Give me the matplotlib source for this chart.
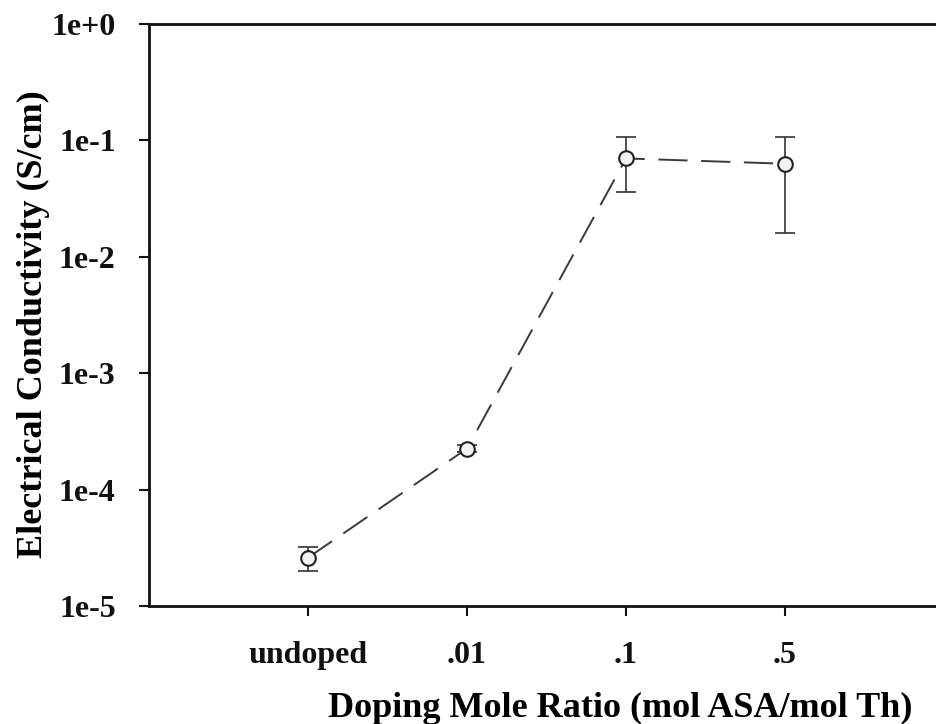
import matplotlib
matplotlib.use("Agg")
import matplotlib.pyplot as plt
import numpy as np

categories = ["undoped", ".01", ".1", ".5"]
conductivity = [2.6e-5, 2.25e-4, 0.070, 0.063]
err_upper = [3.2e-5, 2.4e-4, 0.107, 0.108]
err_lower = [2.0e-5, 2.1e-4, 0.036, 0.016]
ytick_vals = [1e-5, 1e-4, 1e-3, 1e-2, 1e-1, 1e0]
ytick_labels = ["1e-5", "1e-4", "1e-3", "1e-2", "1e-1", "1e+0"]

plt.rcParams['font.family'] = ['Liberation Serif', 'DejaVu Serif']
plt.rcParams['font.weight'] = 'bold'

fig = plt.figure(figsize=(9.36, 7.24), dpi=100)
W, H = 936, 724
left, right, top, bottom = 149, 936, 24, 606
ax = fig.add_axes([left / W, 1 - bottom / H, (right - left) / W, (bottom - top) / H])

x = np.arange(1, len(categories) + 1)
y = np.array(conductivity)
yerr = np.array([y - np.array(err_lower), np.array(err_upper) - y])

ax.errorbar(x, y, yerr=yerr, fmt='none', ecolor='#333333', elinewidth=1.2,
            capsize=7, capthick=1.2, zorder=2)
ax.plot(x, y, linestyle=(0, (15, 7)), color='#3a3a3a', linewidth=1.4, zorder=3)
ax.plot(x, y, linestyle='none', marker='o', markersize=10.5,
        markerfacecolor='#f2f2f2', markeredgecolor='#222222', markeredgewidth=1.5, zorder=4)

ax.set_yscale('log')
ax.set_ylim(1e-5, 1e0)
ax.set_xlim(0, (right - left) / 159.0)
ax.set_yticks(ytick_vals)
ax.set_yticklabels(ytick_labels)
ax.yaxis.set_minor_locator(matplotlib.ticker.NullLocator())
ax.set_xticks(x)
ax.set_xticklabels(categories)

ax.spines['right'].set_visible(False)
for s in ['left', 'top', 'bottom']:
    ax.spines[s].set_linewidth(2)
    ax.spines[s].set_color('#111111')

ax.tick_params(axis='both', direction='out', length=7, width=1.5, colors='#111111',
               labelsize=23)
ax.tick_params(axis='y', pad=17)
ax.tick_params(axis='x', pad=18)
for lab in ax.get_xticklabels() + ax.get_yticklabels():
    lab.set_fontweight('bold')

ax.set_ylabel("Electrical Conductivity (S/cm)", fontsize=26, fontweight='bold')
ax.set_xlabel("Doping Mole Ratio (mol ASA/mol Th)", fontsize=26, fontweight='bold')
ax.xaxis.set_label_coords((620 - left) / (right - left), -(692 - bottom) / (bottom - top))
ax.yaxis.set_label_coords(-(149 - 50) / (right - left), (bottom - 324) / (bottom - top))

fig.savefig("out.png", dpi=100, facecolor='white')
